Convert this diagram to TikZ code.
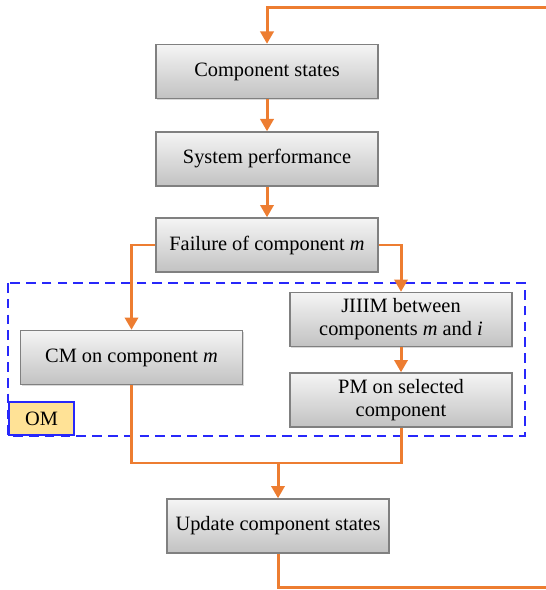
\documentclass[tikz,border=0pt]{standalone}
\usepackage{fontspec}
\setmainfont{Liberation Serif}
\usetikzlibrary{arrows.meta,shadows}

\definecolor{flow}{RGB}{237,125,49}
\definecolor{omblue}{RGB}{40,40,250}
\definecolor{omfill}{RGB}{255,226,150}

\tikzset{
	stepbox/.style={draw=black!50, line width=0.8pt, top color=black!4, bottom color=black!24,
		minimum width=4.44cm, minimum height=1.08cm, align=center, inner sep=1pt,
		drop shadow={shadow xshift=0.8pt, shadow yshift=-0.8pt, opacity=0.3},
		font=\fontsize{11.6}{13.2}\selectfont},
	flowline/.style={draw=flow, line width=1.7pt},
	flowarrow/.style={flowline, -{Triangle[width=7.5pt,length=7pt]}},
}

\begin{document}
\begin{tikzpicture}[x=0.02cm, y=-0.02cm]
		\useasboundingbox (0, 0) rectangle (545, 590);
	
		% operation and maintenance block
		\draw[omblue, line width=1.2pt, dash pattern=on 5.5pt off 3.5pt] (8, 283) rectangle (525, 436);
		\node[draw=omblue, line width=1.2pt, fill=omfill, minimum width=1.3cm, minimum height=0.66cm,
			anchor=south west, inner sep=0pt, font=\fontsize{11.6}{13.2}\selectfont] (om) at (8, 436) {OM};
	
		\node[stepbox] (states) at (267, 71.5) {Component states};
		\node[stepbox] (perf) at (267, 159) {System performance};
		\node[stepbox] (fail) at (267, 245) {Failure of component \textit{m}};
		\node[stepbox] (cm) at (131.5, 357.5) {CM on component \textit{m}};
		\node[stepbox] (jiiim) at (401, 319.5) {JIIIM between\\components \textit{m} and \textit{i}};
		\node[stepbox] (pm) at (401, 400) {PM on selected\\component};
		\node[stepbox] (update) at (278, 526) {Update component states};
	
		\coordinate (merge) at (278, 463);
		\coordinate (loopbot) at (570, 587);
		\coordinate (looptop) at (570, 8);
	
		\draw[flowarrow] (states) -- (perf);
		\draw[flowarrow] (perf) -- (fail);
		\draw[flowarrow] (fail.west) -| (cm.north);
		\draw[flowarrow] (fail.east) -| (jiiim.north);
		\draw[flowarrow] (jiiim) -- (pm);
		\draw[flowline] (cm.south) |- (merge);
		\draw[flowline] (pm.south) |- (merge);
		\draw[flowarrow] (merge) -- (update);
		\draw[flowarrow] (update.south) |- (loopbot) -- (looptop) -| (states.north);
	\end{tikzpicture}
\end{document}
